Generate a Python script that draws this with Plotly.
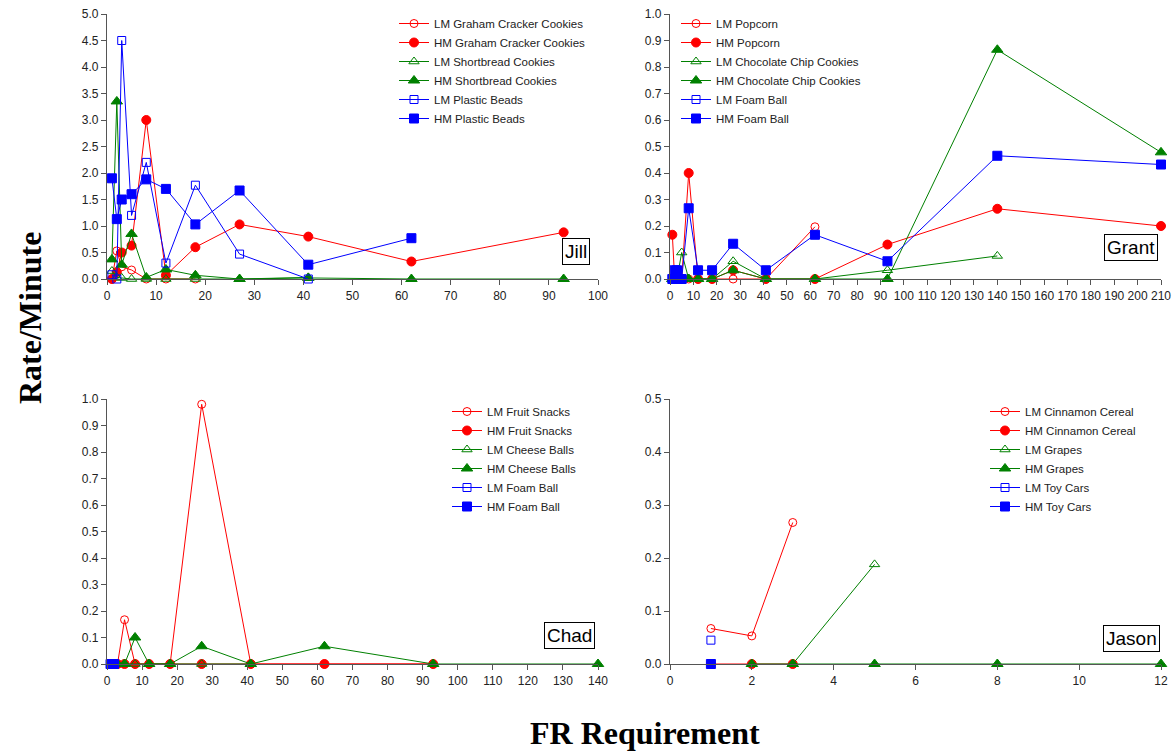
import plotly.graph_objects as go

# ---------------- DATA ----------------
# Jill
jill_lm_graham_x = [1, 2, 3, 5, 8, 12, 18]
jill_lm_graham_y = [0.0, 0.53, 0.23, 0.17, 0.0, 0.0, 0.0]
jill_hm_graham_x = [1, 2, 3, 5, 8, 12, 18, 27, 41, 62, 93]
jill_hm_graham_y = [0.0, 0.13, 0.5, 0.63, 3.0, 0.07, 0.6, 1.03, 0.8, 0.33, 0.88]
jill_lm_short_x = [1, 2, 3, 5, 8, 12, 18, 27, 41]
jill_lm_short_y = [0.15, 0.03, 0.02, 0.0, 0.0, 0.0, 0.0, 0.0, 0.03]
jill_hm_short_x = [1, 2, 3, 5, 8, 12, 18, 27, 41, 62, 93]
jill_hm_short_y = [0.37, 3.35, 0.27, 0.85, 0.03, 0.18, 0.07, 0.0, 0.02, 0.0, 0.0]
jill_lm_beads_x = [1, 2, 3, 5, 8, 12, 18, 27, 41]
jill_lm_beads_y = [0.08, 0.0, 4.5, 1.2, 2.2, 0.3, 1.77, 0.47, 0.0]
jill_hm_beads_x = [1, 2, 3, 5, 8, 12, 18, 27, 41, 62]
jill_hm_beads_y = [1.9, 1.13, 1.5, 1.6, 1.88, 1.7, 1.03, 1.67, 0.27, 0.77]

# Grant
grant_lm_popcorn_x = [1, 2, 3, 5, 8, 12, 18, 27, 41, 62]
grant_lm_popcorn_y = [0, 0, 0, 0, 0, 0, 0, 0, 0, 0.197]
grant_hm_popcorn_x = [1, 2, 3, 5, 8, 12, 18, 27, 41, 62, 93, 140, 210]
grant_hm_popcorn_y = [0.167, 0, 0, 0, 0.4, 0, 0, 0.033, 0, 0, 0.13, 0.265, 0.2]
grant_lm_choc_x = [1, 2, 3, 5, 8, 12, 18, 27, 41, 62, 93, 140]
grant_lm_choc_y = [0, 0, 0, 0.1, 0, 0, 0, 0.067, 0, 0, 0.033, 0.087]
grant_hm_choc_x = [1, 2, 3, 5, 8, 12, 18, 27, 41, 62, 93, 140, 210]
grant_hm_choc_y = [0, 0, 0, 0, 0, 0, 0, 0.033, 0, 0, 0, 0.865, 0.478]
grant_lm_foam_x = [1, 2, 3]
grant_lm_foam_y = [0, 0, 0]
grant_hm_foam_x = [1, 2, 3, 5, 8, 12, 18, 27, 41, 62, 93, 140, 210]
grant_hm_foam_y = [0, 0.033, 0.033, 0, 0.267, 0.033, 0.033, 0.133, 0.033, 0.167, 0.067, 0.465, 0.432]

# Chad
chad_lm_fruit_x = [3, 5, 8, 12, 18, 27, 41, 62, 93]
chad_lm_fruit_y = [0, 0.167, 0, 0, 0, 0.98, 0, 0, 0]
chad_hm_fruit_x = [3, 5, 8, 12, 18, 27, 41, 62, 93]
chad_hm_fruit_y = [0, 0, 0, 0, 0, 0, 0, 0, 0]
chad_lm_cheese_x = [5, 8, 12, 18, 27, 41]
chad_lm_cheese_y = [0, 0, 0, 0, 0, 0]
chad_hm_cheese_x = [3, 5, 8, 12, 18, 27, 41, 62, 93, 140]
chad_hm_cheese_y = [0, 0, 0.1, 0, 0, 0.067, 0, 0.067, 0, 0]
chad_lm_foam_x = [1, 2]
chad_lm_foam_y = [0, 0]
chad_hm_foam_x = [1, 2]
chad_hm_foam_y = [0, 0]

# Jason
jason_lm_cinn_x = [1, 2, 3]
jason_lm_cinn_y = [0.067, 0.053, 0.267]
jason_hm_cinn_x = [1, 2, 3]
jason_hm_cinn_y = [0, 0, 0]
jason_lm_grapes_x = [3, 5]
jason_lm_grapes_y = [0, 0.188]
jason_hm_grapes_x = [2, 3, 5, 8, 12]
jason_hm_grapes_y = [0, 0, 0, 0, 0]
jason_lm_toy_x = [1]
jason_lm_toy_y = [0.045]
jason_hm_toy_x = [1]
jason_hm_toy_y = [0]

panel_names = ["Jill", "Grant", "Chad", "Jason"]

# ---------------- STYLE ----------------
RED, GREEN, BLUE = "#FF0000", "#008000", "#0000FF"
FONT = "Arial, Liberation Sans, sans-serif"

fig = go.Figure()


def add(name, x, y, color, symbol, xa, ya, legend):
    filled = not symbol.endswith("open")
    size = 9 if filled else 8
    if symbol.startswith("triangle"):
        size += 1
    fig.add_trace(go.Scatter(
        x=x, y=y, name=name, mode="lines+markers",
        line=dict(color=color, width=1),
        marker=dict(symbol=symbol, size=size, color=color,
                    line=dict(color=color, width=1)),
        xaxis=xa, yaxis=ya, legend=legend, cliponaxis=False,
    ))


panels = [
    ("x", "y", "legend", [
        ("LM Graham Cracker Cookies", jill_lm_graham_x, jill_lm_graham_y, RED, "circle-open"),
        ("HM Graham Cracker Cookies", jill_hm_graham_x, jill_hm_graham_y, RED, "circle"),
        ("LM Shortbread Cookies", jill_lm_short_x, jill_lm_short_y, GREEN, "triangle-up-open"),
        ("HM Shortbread Cookies", jill_hm_short_x, jill_hm_short_y, GREEN, "triangle-up"),
        ("LM Plastic Beads", jill_lm_beads_x, jill_lm_beads_y, BLUE, "square-open"),
        ("HM Plastic Beads", jill_hm_beads_x, jill_hm_beads_y, BLUE, "square"),
    ]),
    ("x2", "y2", "legend2", [
        ("LM Popcorn", grant_lm_popcorn_x, grant_lm_popcorn_y, RED, "circle-open"),
        ("HM Popcorn", grant_hm_popcorn_x, grant_hm_popcorn_y, RED, "circle"),
        ("LM Chocolate Chip Cookies", grant_lm_choc_x, grant_lm_choc_y, GREEN, "triangle-up-open"),
        ("HM Chocolate Chip Cookies", grant_hm_choc_x, grant_hm_choc_y, GREEN, "triangle-up"),
        ("LM Foam Ball", grant_lm_foam_x, grant_lm_foam_y, BLUE, "square-open"),
        ("HM Foam Ball", grant_hm_foam_x, grant_hm_foam_y, BLUE, "square"),
    ]),
    ("x3", "y3", "legend3", [
        ("LM Fruit Snacks", chad_lm_fruit_x, chad_lm_fruit_y, RED, "circle-open"),
        ("HM Fruit Snacks", chad_hm_fruit_x, chad_hm_fruit_y, RED, "circle"),
        ("LM Cheese Balls", chad_lm_cheese_x, chad_lm_cheese_y, GREEN, "triangle-up-open"),
        ("HM Cheese Balls", chad_hm_cheese_x, chad_hm_cheese_y, GREEN, "triangle-up"),
        ("LM Foam Ball", chad_lm_foam_x, chad_lm_foam_y, BLUE, "square-open"),
        ("HM Foam Ball", chad_hm_foam_x, chad_hm_foam_y, BLUE, "square"),
    ]),
    ("x4", "y4", "legend4", [
        ("LM Cinnamon Cereal", jason_lm_cinn_x, jason_lm_cinn_y, RED, "circle-open"),
        ("HM Cinnamon Cereal", jason_hm_cinn_x, jason_hm_cinn_y, RED, "circle"),
        ("LM Grapes", jason_lm_grapes_x, jason_lm_grapes_y, GREEN, "triangle-up-open"),
        ("HM Grapes", jason_hm_grapes_x, jason_hm_grapes_y, GREEN, "triangle-up"),
        ("LM Toy Cars", jason_lm_toy_x, jason_lm_toy_y, BLUE, "square-open"),
        ("HM Toy Cars", jason_hm_toy_x, jason_hm_toy_y, BLUE, "square"),
    ]),
]

for xa, ya, lg, series in panels:
    for name, x, y, c, s in series:
        add(name, x, y, c, s, xa, ya, lg)

W, H = 1175, 751


def px_x(p):
    return p / W


def px_y(p):
    return 1 - p / H


axis_common = dict(showgrid=False, zeroline=False, showline=True, automargin=False,
                   linecolor="#555555", linewidth=1.3, ticks="outside",
                   ticklen=5, tickcolor="#555555", tickwidth=1,
                   tickfont=dict(family=FONT, size=12, color="#222222"))

top_dom = [px_y(279), px_y(14)]
bot_dom = [px_y(664), px_y(399)]
left_dom = [px_x(107), px_x(598)]
right_dom = [px_x(670), px_x(1161)]

fig.update_layout(
    width=W, height=H, margin=dict(l=0, r=0, t=0, b=0, autoexpand=False),
    plot_bgcolor="white", paper_bgcolor="white",
    font=dict(family=FONT, size=12, color="#222222"),
    xaxis=dict(domain=left_dom, range=[0, 100], dtick=10, anchor="y", **axis_common),
    yaxis=dict(domain=top_dom, range=[0, 5], dtick=0.5, tickformat=".1f", anchor="x", **axis_common),
    xaxis2=dict(domain=right_dom, range=[0, 210], dtick=10, anchor="y2", **axis_common),
    yaxis2=dict(domain=top_dom, range=[0, 1], dtick=0.1, tickformat=".1f", anchor="x2", **axis_common),
    xaxis3=dict(domain=left_dom, range=[0, 140], dtick=10, anchor="y3", **axis_common),
    yaxis3=dict(domain=bot_dom, range=[0, 1], dtick=0.1, tickformat=".1f", anchor="x3", **axis_common),
    xaxis4=dict(domain=right_dom, range=[0, 12], dtick=2, anchor="y4", **axis_common),
    yaxis4=dict(domain=bot_dom, range=[0, 0.5], dtick=0.1, tickformat=".1f", anchor="x4", **axis_common),
)

leg_common = dict(bgcolor="rgba(0,0,0,0)", font=dict(family=FONT, size=11.5, color="#222222"),
                  xanchor="left", yanchor="top", itemwidth=30, tracegroupgap=0)
fig.update_layout(
    legend=dict(x=px_x(394), y=px_y(9), **leg_common),
    legend2=dict(x=px_x(676), y=px_y(9), **leg_common),
    legend3=dict(x=px_x(447), y=px_y(397), **leg_common),
    legend4=dict(x=px_x(985), y=px_y(397), **leg_common),
)

# panel labels
label_pos = [(575.5, 252), (1131, 247), (569, 635), (1131, 638)]
for name, (lx, ly) in zip(panel_names, label_pos):
    fig.add_annotation(x=px_x(lx), y=px_y(ly), xref="paper", yref="paper",
                       text=name, showarrow=False,
                       font=dict(family=FONT, size=19, color="black"),
                       bordercolor="black", borderwidth=1, borderpad=2,
                       bgcolor="white", xanchor="center", yanchor="middle")

# axis titles
TITLE_FONT = dict(family="Liberation Serif, Times New Roman, serif", size=32, color="black")
fig.add_annotation(x=px_x(30), y=px_y(318), xref="paper", yref="paper",
                   text="<b>Rate/Minute</b>", showarrow=False, textangle=-90,
                   font=TITLE_FONT, xanchor="center", yanchor="middle")
fig.add_annotation(x=px_x(645), y=px_y(733), xref="paper", yref="paper",
                   text="<b>FR Requirement</b>", showarrow=False,
                   font=TITLE_FONT, xanchor="center", yanchor="middle")

fig.write_html("out.html")
